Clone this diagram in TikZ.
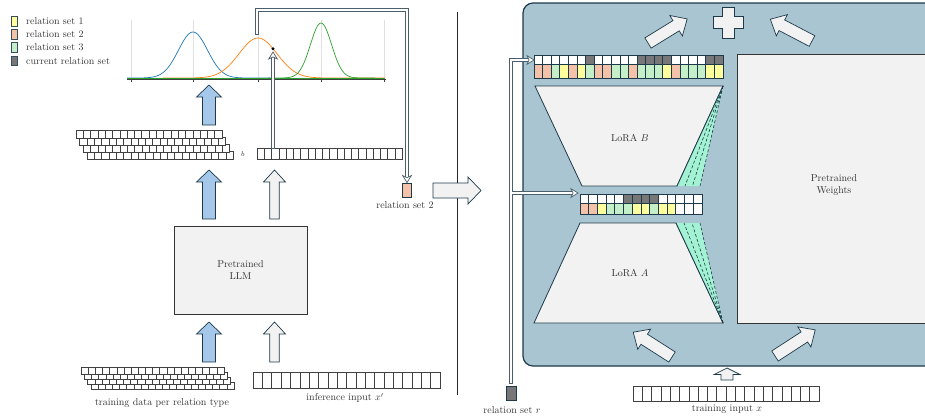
\documentclass[tikz,border=0pt]{standalone}
\usetikzlibrary{arrows.meta,calc}
\definecolor{panel}{HTML}{A8C5D1}
\definecolor{dk}{HTML}{1E3A4A}
\definecolor{lg}{HTML}{F2F2F2}
\definecolor{lblue}{HTML}{A5C8EA}
\definecolor{cY}{HTML}{FFFF9E}
\definecolor{cS}{HTML}{F4C2A8}
\definecolor{cG}{HTML}{C5EFC8}
\definecolor{cD}{HTML}{777777}
\definecolor{cW}{HTML}{FFFFFF}
\definecolor{aqua}{HTML}{A3F2D3}
\definecolor{mblue}{HTML}{1F77B4}
\definecolor{morange}{HTML}{FF7F0E}
\definecolor{mgreen}{HTML}{2CA02C}
\definecolor{connc}{HTML}{4A5F6B}
\newcommand{\cellrow}[6]{\foreach \k in {1,...,#3} \draw[#6] ({#1+(\k-1)*#4},#2) rectangle ++(#4,#5);}
\newcommand{\blockarrow}[7]{\begin{scope}[shift={#2},rotate=#3]\draw[#1] (0,-#5) -- (#4-#7,-#5) -- (#4-#7,-#6) -- (#4,0) -- (#4-#7,#6) -- (#4-#7,#5) -- (0,#5) -- cycle;\end{scope}}
\newcommand{\colorrow}[6]{\foreach \c [count=\k from 0] in {#6} \draw[mcell, fill=\c] ({#1+\k*#3},#2) rectangle ++(#3,#4);}
% hollow connector segment drawn in pieces: points given top-left first
\newcommand{\segout}[2]{\foreach \f in {0,0.2,0.4,0.6,0.8} {\fill[connc] ($#1!\f!#2+(-1.9,-1.9)$) rectangle ($#1!\f+0.2!#2+(1.9,1.9)$);}}
\newcommand{\segin}[2]{\foreach \f in {0,0.2,0.4,0.6,0.8} {\fill[white] ($#1!\f!#2+(-1.15,-1.15)$) rectangle ($#1!\f+0.2!#2+(1.15,1.15)$);}}
\newcommand{\conntip}[2]{\begin{scope}[shift={#1},rotate=#2]\draw[tipst] (0,0) -- (-7,-4.3) -- (-5,0) -- (-7,4.3) -- cycle;\end{scope}}
\begin{document}
\begin{tikzpicture}[x=1pt,y=-1pt,
  every node/.style={text=black!80},
  lbl/.style={inner sep=0pt},
  cell/.style={draw=black!75, line width=0.5pt, fill=white},
  mcell/.style={draw=dk, line width=0.8pt},
  box/.style={draw=black!80, line width=0.7pt, fill=lg},
  tipst/.style={draw=connc, line width=0.7pt, fill=white, line join=miter},
  bluearr/.style={draw=dk, line width=0.7pt, fill=lblue, line join=miter},
  whitearr/.style={draw=dk, line width=0.7pt, fill=lg, line join=miter},
  legsq/.style={draw=dk!90, line width=0.8pt, minimum width=6pt, minimum height=9.5pt, inner sep=0pt},
  lora/.style={draw=dk, line width=0.8pt, fill=lg},
  strip/.style={fill=aqua},
  dline/.style={draw=dk, line width=0.6pt, dash pattern=on 3pt off 2pt}
]
\useasboundingbox (0,0) rectangle (925,416);
\clip (0,0) rectangle (925,416);
\fill[white] (0,0) rectangle (925,416);

% legend
\node[legsq, fill=cY] (l1) at (14,21.3) {};
\node[legsq, fill=cS] (l2) at (14,34.3) {};
\node[legsq, fill=cG] (l3) at (14,47.5) {};
\node[legsq, fill=cD] (l4) at (14,60.7) {};
\node[lbl, anchor=west] (t1) at (26,21.3) {relation set 1};
\node[lbl, anchor=west] (t2) at (26,34.3) {relation set 2};
\node[lbl, anchor=west] (t3) at (26,47.5) {relation set 3};
\node[lbl, anchor=west] (t4) at (26,60.7) {current relation set};

% plot
\foreach \t in {131,193,258,321,384} \draw[black!12, line width=0.5pt] (\t,20) -- (\t,79);
\draw[black!75, line width=0.6pt] (127,79.5) -- (386,79.5);
\foreach \t in {131,193,258,321,384} \draw[black!75, line width=0.5pt] (\t,79.5) -- (\t,82);
\draw[mblue, line width=0.7pt] plot[domain=127:270, samples=90] (\x, {78-46*exp(-0.5*((\x-193)/14.5)^2)});
\draw[morange, line width=0.7pt] plot[domain=163:385, samples=110] (\x, {78-40*exp(-0.5*((\x-258)/19)^2)});
\draw[mgreen, line width=0.7pt] plot[domain=268:375, samples=90] (\x, {78-55*exp(-0.5*((\x-321)/10.6)^2)});
\draw[mgreen, line width=0.7pt] (127,78) -- (385,78);
\node[circle, fill=black, inner sep=0pt, minimum size=3.2pt] (dot) at (273,48.7) {};

% stacked rows (upper)
\foreach \r in {3,2,1,0} { \cellrow{76+\r*3.7}{130+\r*7.2}{20}{7.3}{8}{cell} }
% b row
\node[lbl, font=\scriptsize] (blab) at (243,154) {$b$};
\cellrow{257}{148}{20}{7.25}{11}{cell}
\coordinate (btop) at (273,147);

% arrows left
\blockarrow{bluearr}{(209,125)}{90}{40}{6.5}{12.5}{12}
\blockarrow{bluearr}{(209,219)}{90}{49}{6.5}{12.5}{12}
\blockarrow{bluearr}{(209,362)}{90}{40}{6.5}{12.5}{12}
\blockarrow{whitearr}{(274.5,219)}{90}{49}{4.8}{11}{12}
\blockarrow{whitearr}{(274.5,362)}{90}{40}{4.8}{11}{12}

% LLM
\node[box, minimum width=133pt, minimum height=88pt, align=center] (llm) at (240.5,270) {Pretrained\\LLM};

% bottom rows
\foreach \r in {3,2,1,0} { \cellrow{81+\r*3.3}{367+\r*5}{20}{7.15}{7}{cell} }
\node[lbl] (trl) at (162,403) {training data per relation type};
\cellrow{253}{372}{20}{9.35}{16}{cell}
\node[lbl] (infl) at (345,398) {inference input $x'$};

% relation set 2 and its connector
\node[draw=dk, line width=0.8pt, fill=cS, minimum width=9pt, minimum height=14pt, inner sep=0pt] (rs2) at (407,190) {};
\node[lbl] (rs2l) at (405,205) {relation set 2};
\coordinate (pk) at (257,33);
\coordinate (cornerL) at (257,10);
\coordinate (cornerR) at (407,10);
\coordinate (rs2in) at ($(rs2.north)+(0,-6)$);
\segout{(cornerL)}{(pk)}
\segout{(cornerL)}{(cornerR)}
\segout{(cornerR)}{(rs2in)}
\segin{(cornerL)}{(pk)}
\segin{(cornerL)}{(cornerR)}
\segin{(cornerR)}{(rs2in)}
\conntip{(rs2.north)}{-90}
% b to dot
\coordinate (dotin) at ($(dot.south)+(0,7)$);
\segout{(dotin)}{(btop)}
\segin{(dotin)}{(btop)}
\conntip{($(dot.south)+(0,1.5)$)}{90}

% separator
\draw[black!85, line width=0.6pt] (457,12) -- (457,395);
\blockarrow{whitearr}{(433,190.5)}{0}{48}{7.5}{13.5}{13}

% right panel
\draw[fill=panel, draw=dk, line width=1.2pt, rounded corners=10pt] (523,3) rectangle (960,366);
\draw[box] (737,54) rectangle (945,323);
\node[align=center] (wt) at (834,185) {Pretrained\\Weights};

% LoRA B
\draw[lora] (535,86) -- (723,86) -- (677,186) -- (582,186) -- cycle;
\fill[strip] (723,86) -- (700,186) -- (677,186) -- cycle;
\foreach \e in {685,692.5,700} \draw[dline] (723,86) -- (\e,186);
\draw[dk, line width=0.8pt] (723,86) -- (677,186);
\node (lb) at (630,138) {LoRA $B$};
% LoRA A
\draw[lora] (580,223) -- (676,223) -- (723,323) -- (534,323) -- cycle;
\fill[strip] (676,223) -- (700,223) -- (723,323) -- cycle;
\foreach \e in {684,692,700} \draw[dline] (723,323) -- (\e,223);
\draw[dk, line width=0.8pt] (676,223) -- (723,323);
\node (la) at (630,273) {LoRA $A$};

% matrices
\colorrow{534}{55}{8.59}{9}{}{cW,cW,cW,cW,cW,cW,cD,cW,cW,cW,cW,cW,cD,cD,cD,cD,cW,cW,cW,cW,cD,cD}
\colorrow{534}{64}{8.59}{14}{}{cS,cS,cG,cY,cS,cY,cG,cS,cS,cG,cG,cS,cG,cG,cG,cY,cS,cG,cG,cG,cY,cY}
\colorrow{580}{194}{8.71}{9}{}{cW,cW,cW,cW,cW,cD,cD,cD,cD,cW,cW,cW,cW,cW}
\colorrow{580}{203}{8.71}{11}{}{cS,cS,cY,cG,cG,cG,cY,cY,cG,cY,cY,cW,cW,cW}

% panel arrows and plus
\blockarrow{whitearr}{(648,43)}{31.6}{46}{6}{12}{13}
\blockarrow{whitearr}{(812,41)}{152.4}{47}{6}{12}{13}
\blockarrow{whitearr}{(672,357)}{147.4}{46}{6}{12}{13}
\blockarrow{whitearr}{(775,356)}{33}{48}{6}{12}{13}
\draw[whitearr] (722,7.5) -- (734,7.5) -- (734,16.5) -- (743,16.5) -- (743,28.5) -- (734,28.5) -- (734,38) -- (722,38) -- (722,28.5) -- (713,28.5) -- (713,16.5) -- (722,16.5) -- cycle;

% relation set r and connectors
\node[draw=dk, line width=0.8pt, fill=cD, minimum width=10pt, minimum height=14pt, inner sep=0pt] (rsr) at (511,393) {};
\node[lbl] (rsrl) at (512,410) {relation set $r$};
\coordinate (rbot) at (511,382);
\coordinate (rtop) at (511,60);
\coordinate (topin) at (528,60);
\coordinate (toptip) at (534,60);
\coordinate (branch) at (511,193);
\coordinate (midin) at (572,193);
\coordinate (midtip) at (578,193);
\segout{(rtop)}{(rbot)}
\segout{(rtop)}{(topin)}
\segout{(branch)}{(midin)}
\segin{(rtop)}{(rbot)}
\segin{(rtop)}{(topin)}
\segin{(branch)}{(midin)}
\conntip{(toptip)}{0}
\conntip{(midtip)}{0}

% training input
\cellrow{633}{386}{20}{9.3}{15}{cell}
\node[lbl] (til) at (727,409) {training input $x$};
\blockarrow{whitearr}{(727,380)}{90}{12}{6}{13}{6.5}
\end{tikzpicture}
\end{document}
